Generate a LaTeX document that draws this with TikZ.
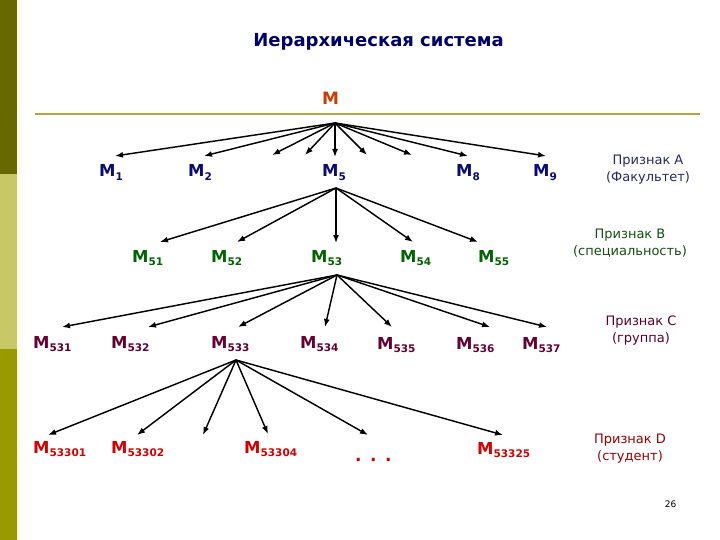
\documentclass[tikz,border=0pt]{standalone}
\usepackage{fontspec}
\setmainfont{DejaVu Sans}
\usetikzlibrary{arrows.meta}
\definecolor{barA}{RGB}{104,104,0}
\definecolor{barB}{RGB}{200,200,104}
\definecolor{barC}{RGB}{153,153,0}
\definecolor{barStrip}{RGB}{255,255,232}
\definecolor{rule}{RGB}{186,164,70}
\definecolor{titlec}{RGB}{0,0,102}
\definecolor{ctop}{RGB}{204,60,0}
\definecolor{cone}{RGB}{10,10,120}
\definecolor{ctwo}{RGB}{0,100,0}
\definecolor{cthree}{RGB}{102,0,51}
\definecolor{cfour}{RGB}{214,0,0}
\definecolor{pa}{RGB}{40,40,100}
\definecolor{pb}{RGB}{20,80,20}
\definecolor{pc}{RGB}{90,0,40}
\definecolor{pd}{RGB}{153,0,0}
\newcommand{\Msub}[1]{M\raisebox{-3.5pt}{\fontsize{10.5}{10.5}\selectfont #1}}
\begin{document}
\begin{tikzpicture}[x=1pt,y=-1pt,
  mlab/.style={anchor=base west, inner sep=0, font=\fontsize{16.5}{16.5}\selectfont\bfseries},
  lone/.style={mlab, text=cone},
  ltwo/.style={mlab, text=ctwo},
  lthree/.style={mlab, text=cthree},
  lfour/.style={mlab, text=cfour},
  arr/.style={-{Latex[length=8pt,width=6pt]}, line width=1.45pt, black},
  prz/.style={align=center, anchor=north, inner sep=0, font=\fontsize{13}{17}\selectfont}]
\useasboundingbox (0,0) rectangle (720,540);
\fill[white] (0,0) rectangle (720,540);
% left bar
\fill[barA] (0,0) rectangle (17,174);
\fill[barB] (0,174) rectangle (17,349);
\fill[barC] (0,349) rectangle (17,540);
\fill[barStrip] (17,0) rectangle (20,540);
% title and rule
\node[anchor=base, inner sep=0, font=\fontsize{18}{18}\selectfont\bfseries, text=titlec] (title) at (378.5,47) {Иерархическая система};
\draw[rule, line width=2pt] (35,114) -- (700,114);
% root
\node[mlab, text=ctop, font=\fontsize{17}{17}\selectfont\bfseries] (M) at (322,105) {M};
% level 1
\node[lone] (M1) at (99,177) {\Msub{1}};
\node[lone] (M2) at (188,177) {\Msub{2}};
\node[lone] (M5) at (322,177) {\Msub{5}};
\node[lone] (M8) at (456,177) {\Msub{8}};
\node[lone] (M9) at (533,177) {\Msub{9}};
% level 2
\node[ltwo] (M51) at (132,262) {\Msub{51}};
\node[ltwo] (M52) at (211,262) {\Msub{52}};
\node[ltwo] (M53) at (311,262) {\Msub{53}};
\node[ltwo] (M54) at (400,262) {\Msub{54}};
\node[ltwo] (M55) at (478,262) {\Msub{55}};
% level 3
\node[lthree] (M531) at (33,348) {\Msub{531}};
\node[lthree] (M532) at (111,348) {\Msub{532}};
\node[lthree] (M533) at (211,348) {\Msub{533}};
\node[lthree] (M534) at (300,348) {\Msub{534}};
\node[lthree] (M535) at (377,349) {\Msub{535}};
\node[lthree] (M536) at (456,349) {\Msub{536}};
\node[lthree] (M537) at (522,349) {\Msub{537}};
% level 4
\node[lfour] (M53301) at (33,453) {\Msub{53301}};
\node[lfour] (M53302) at (111,453) {\Msub{53302}};
\node[lfour] (M53304) at (244,453) {\Msub{53304}};
\node[lfour, font=\fontsize{17}{17}\selectfont\bfseries] (dots) at (355,461) {.\hspace{8.5pt}.\hspace{8.5pt}.};
\node[lfour] (M53325) at (477,454) {\Msub{53325}};
% criteria
\node[prz, text=pa] (pA) at (648,154.5) {Признак А\\(Факультет)};
\node[prz, text=pb] (pB) at (630,228.5) {Признак В\\(специальность)};
\node[prz, text=pc] (pC) at (641,315.5) {Признак С\\(группа)};
\node[prz, text=pd] (pD) at (630,433.5) {Признак D\\(студент)};
\node[anchor=base, inner sep=0, font=\fontsize{9}{9}\selectfont] (page) at (670.5,507) {26};
% fan origins
\coordinate (f0) at (335,123);
\coordinate (f5) at (336,188);
\coordinate (f53) at (337,275);
\coordinate (f533) at (236,360);
% tips level 1
\coordinate (a1) at (115,156);
\coordinate (a2) at (204,156);
\coordinate (a3) at (272,155);
\coordinate (a4) at (305,155);
\coordinate (a5) at (335,157);
\coordinate (a6) at (367,155);
\coordinate (a7) at (412,155);
\coordinate (a8) at (468,156);
\coordinate (a9) at (546,156);
\foreach \t in {a1,a2,a3,a4,a5,a6,a7,a8,a9} \draw[arr] (f0) -- (\t);
% tips level 2
\coordinate (b1) at (160,242);
\coordinate (b2) at (237,242);
\coordinate (b3) at (336,243);
\coordinate (b4) at (413,242);
\coordinate (b5) at (478,242);
\foreach \t in {b1,b2,b3,b4,b5} \draw[arr] (f5) -- (\t);
% tips level 3
\coordinate (c1) at (62,327);
\coordinate (c2) at (148,327);
\coordinate (c3) at (238,327);
\coordinate (c4) at (325,327);
\coordinate (c5) at (392,327);
\coordinate (c6) at (490,327);
\coordinate (c7) at (547,327);
\foreach \t in {c1,c2,c3,c4,c5,c6,c7} \draw[arr] (f53) -- (\t);
% tips level 4
\coordinate (d1) at (48,435);
\coordinate (d2) at (137,435);
\coordinate (d3) at (203,435);
\coordinate (d4) at (268,434);
\coordinate (d5) at (368,435);
\coordinate (d6) at (503,435);
\foreach \t in {d1,d2,d3,d4,d5,d6} \draw[arr] (f533) -- (\t);
\end{tikzpicture}
\end{document}
